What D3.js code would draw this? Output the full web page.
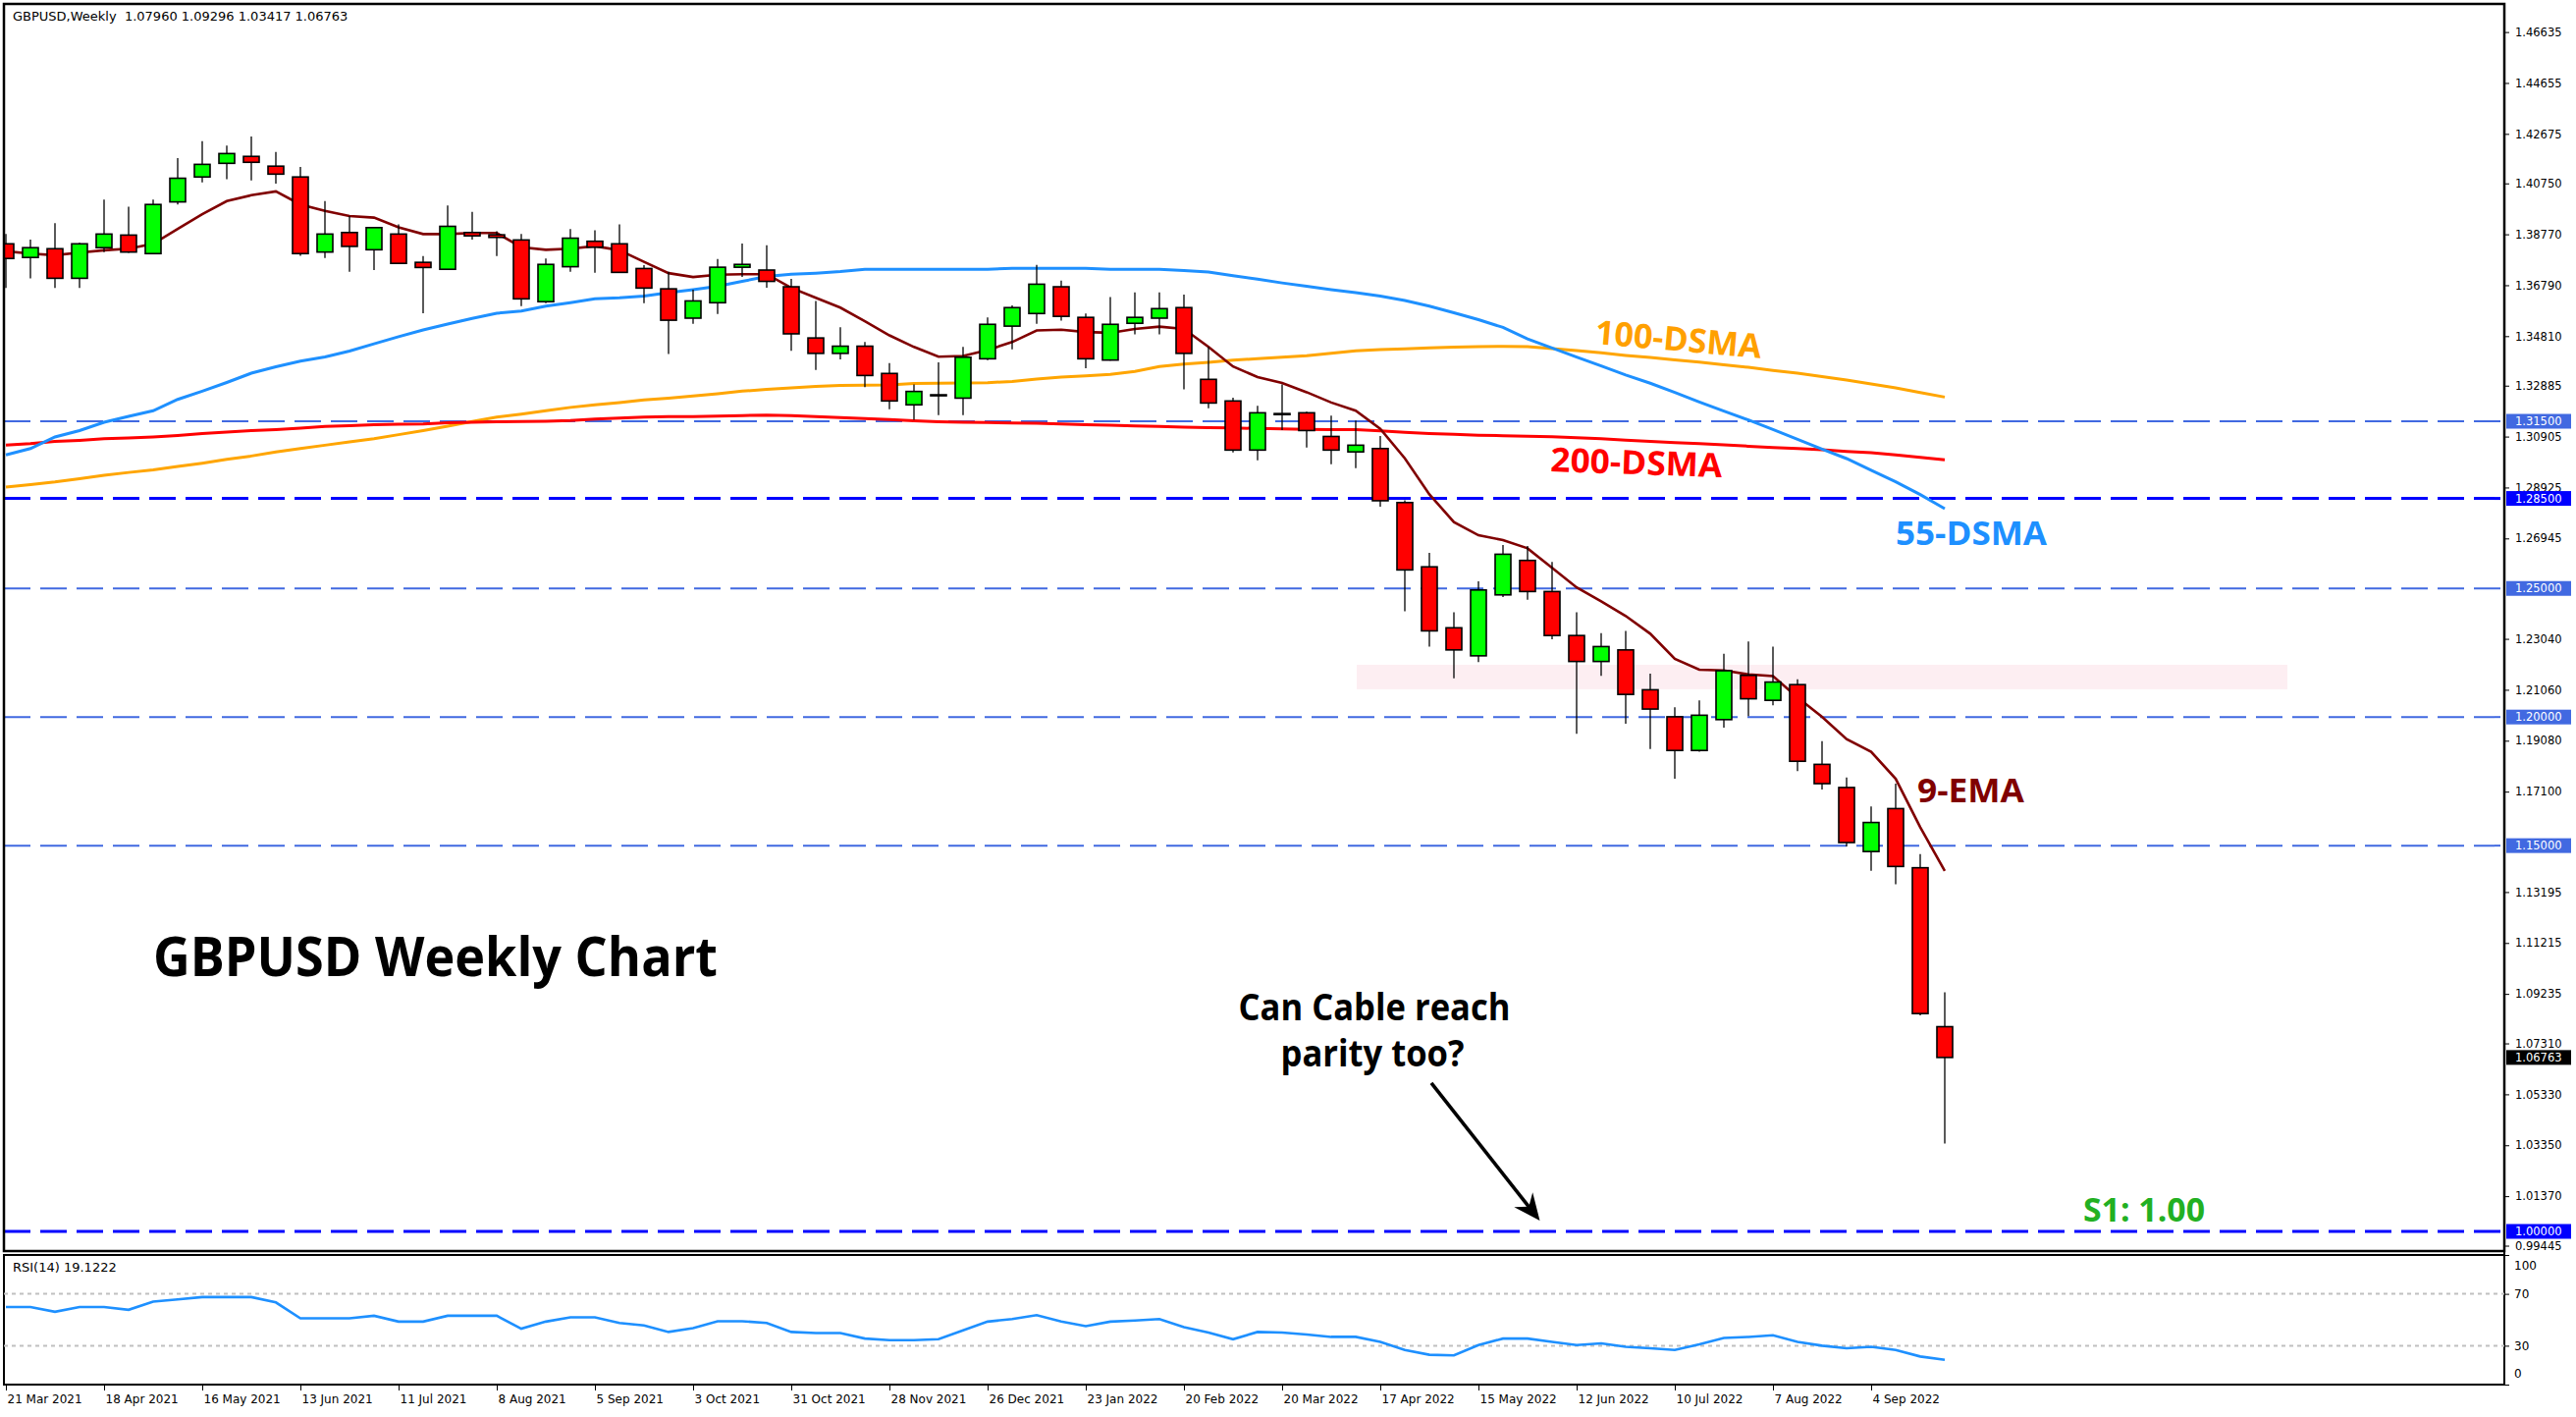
<!DOCTYPE html>
<html><head><meta charset="utf-8">
<script src="https://cdn.jsdelivr.net/npm/d3@7"></script>
<style>
html,body{margin:0;padding:0;background:#fff;}
svg{display:block;}
text{white-space:pre;}
</style></head><body>
<svg id="chart" width="2624" height="1443"></svg>
<script>
// ---------- DATA (weekly GBPUSD, week 0 = 21 Mar 2021) ----------
const opens = [1.3840,1.3787,1.3821,1.3706,1.3825,1.3874,1.3802,1.4003,1.4100,1.4153,
  1.4180,1.4142,1.4100,1.3808,1.3884,1.3817,1.3878,1.3768,1.3741,1.3884,
  1.3875,1.3855,1.3615,1.3751,1.3850,1.3840,1.3744,1.3665,1.3551,1.3611,
  1.3749,1.3738,1.3673,1.3474,1.3414,1.3442,1.3336,1.3214,1.3253,1.3240,
  1.3393,1.3520,1.3569,1.3673,1.3554,1.3388,1.3531,1.3551,1.3592,1.3313,
  1.3229,1.3038,1.3180,1.3183,1.3091,1.3031,1.3044,1.2834,1.2584,1.2347,
  1.2238,1.2475,1.2609,1.2488,1.2317,1.2216,1.2261,1.2106,1.2001,1.1870,
  1.1990,1.2162,1.2065,1.2126,1.1816,1.1726,1.1477,1.1644,1.1414,1.07960];
const highs = [1.3878,1.3856,1.3920,1.3844,1.4012,1.3984,1.4012,1.4173,1.4239,1.4222,
  1.4257,1.4197,1.4139,1.4006,1.3948,1.3905,1.3916,1.3792,1.3989,1.3964,
  1.3889,1.3878,1.3783,1.3897,1.3893,1.3916,1.3757,1.3731,1.3662,1.3781,
  1.3841,1.3834,1.3704,1.3618,1.3516,1.3458,1.3376,1.3293,1.3379,1.3439,
  1.3554,1.3601,1.3758,1.3697,1.3569,1.3633,1.3651,1.3651,1.3643,1.3439,
  1.3242,1.3210,1.3293,1.3187,1.3172,1.3153,1.3093,1.2843,1.2638,1.2407,
  1.2528,1.2669,1.2665,1.2603,1.2407,1.2326,1.2335,1.2169,1.2038,1.2065,
  1.2246,1.2294,1.2274,1.2147,1.1906,1.1765,1.1652,1.1741,1.1467,1.09296];
const lows = [1.3668,1.3706,1.3668,1.3668,1.3808,1.3805,1.3800,1.3993,1.4079,1.4091,
  1.4086,1.4074,1.3793,1.3785,1.3731,1.3738,1.3762,1.3570,1.3739,1.3856,
  1.3792,1.3598,1.3609,1.3731,1.3728,1.3727,1.3609,1.3412,1.3529,1.3567,
  1.3711,1.3669,1.3424,1.3350,1.3391,1.3283,1.3197,1.3156,1.3174,1.3174,
  1.3388,1.3430,1.3529,1.3541,1.3356,1.3386,1.3488,1.3488,1.3274,1.3201,
  1.3029,1.2998,1.3116,1.3048,1.2983,1.2968,1.2818,1.2411,1.2274,1.2151,
  1.2214,1.2467,1.2456,1.2302,1.1935,1.2160,1.1974,1.1876,1.1760,1.1865,
  1.1959,1.2004,1.2046,1.1790,1.1718,1.1497,1.1402,1.1350,1.0840,1.03417];
const closes = [1.3783,1.3825,1.3706,1.3840,1.3878,1.3808,1.3993,1.4095,1.4149,1.4191,
  1.4157,1.4111,1.3802,1.3878,1.3830,1.3903,1.3764,1.3748,1.3908,1.3871,
  1.3865,1.3626,1.3760,1.3862,1.3827,1.3729,1.3668,1.3543,1.3618,1.3749,
  1.3760,1.3694,1.3490,1.3414,1.3442,1.3328,1.3229,1.3266,1.3250,1.3399,
  1.3527,1.3592,1.3683,1.3558,1.3393,1.3527,1.3554,1.3588,1.3414,1.3221,
  1.3038,1.3183,1.3176,1.3114,1.3038,1.3057,1.2841,1.2572,1.2335,1.2261,
  1.2494,1.2633,1.2488,1.2317,1.2216,1.2274,1.2088,1.2031,1.1870,1.2007,
  1.2180,1.2071,1.2136,1.1828,1.1741,1.1512,1.1590,1.1419,1.0847,1.06763];
const ema9 = [1.3811,1.3802,1.3796,1.3806,1.3815,1.3821,1.3840,1.3898,1.3955,1.4006,
  1.4029,1.4044,1.3993,1.3968,1.3948,1.3942,1.3904,1.3878,1.3878,1.3882,
  1.3882,1.3827,1.3817,1.3821,1.3831,1.3815,1.3770,1.3726,1.3711,1.3720,
  1.3722,1.3722,1.3669,1.3630,1.3592,1.3539,1.3484,1.3439,1.3401,1.3404,
  1.3427,1.3458,1.3503,1.3506,1.3497,1.3494,1.3509,1.3518,1.3509,1.3439,
  1.3363,1.3322,1.3299,1.3263,1.3223,1.3191,1.3121,1.3006,1.2866,1.2758,
  1.2707,1.2688,1.2656,1.2580,1.2504,1.2450,1.2393,1.2324,1.2226,1.2184,
  1.2181,1.2166,1.2159,1.2076,1.2001,1.1914,1.1865,1.1760,1.1572,1.1402];
const sma55 = [1.3019,1.3044,1.3089,1.3114,1.3146,1.3169,1.3191,1.3235,1.3267,1.3301,
  1.3337,1.3362,1.3384,1.3400,1.3423,1.3451,1.3479,1.3505,1.3528,1.3550,
  1.3570,1.3579,1.3598,1.3611,1.3626,1.3630,1.3637,1.3650,1.3662,1.3675,
  1.3694,1.3713,1.3722,1.3726,1.3732,1.3741,1.3741,1.3741,1.3741,1.3741,
  1.3741,1.3745,1.3745,1.3745,1.3745,1.3741,1.3741,1.3741,1.3736,1.3730,
  1.3716,1.3703,1.3688,1.3675,1.3662,1.3650,1.3637,1.3620,1.3598,1.3572,
  1.3545,1.3515,1.3470,1.3435,1.3400,1.3365,1.3330,1.3298,1.3262,1.3225,
  1.3190,1.3155,1.3118,1.3080,1.3042,1.3005,1.2960,1.2915,1.2865,1.2810];
const sma100 = [1.2894,1.2904,1.2914,1.2927,1.2940,1.2951,1.2961,1.2974,1.2987,1.3002,
  1.3015,1.3031,1.3044,1.3057,1.3070,1.3082,1.3098,1.3114,1.3131,1.3149,
  1.3166,1.3178,1.3191,1.3204,1.3214,1.3223,1.3233,1.3240,1.3248,1.3257,
  1.3267,1.3274,1.3280,1.3286,1.3289,1.3290,1.3291,1.3297,1.3298,1.3299,
  1.3300,1.3305,1.3314,1.3322,1.3327,1.3332,1.3344,1.3363,1.3372,1.3379,
  1.3388,1.3393,1.3399,1.3405,1.3414,1.3424,1.3429,1.3432,1.3435,1.3438,
  1.3440,1.3441,1.3440,1.3433,1.3425,1.3416,1.3406,1.3398,1.3389,1.3380,
  1.3370,1.3360,1.3348,1.3337,1.3324,1.3310,1.3295,1.3280,1.3262,1.3244];
const sma200 = [1.3057,1.3063,1.3072,1.3076,1.3082,1.3085,1.3089,1.3095,1.3102,1.3108,
  1.3114,1.3118,1.3123,1.3130,1.3133,1.3137,1.3139,1.3140,1.3144,1.3146,
  1.3148,1.3149,1.3150,1.3153,1.3159,1.3162,1.3166,1.3168,1.3168,1.3170,
  1.3172,1.3174,1.3172,1.3168,1.3164,1.3161,1.3157,1.3152,1.3148,1.3146,
  1.3145,1.3143,1.3142,1.3140,1.3137,1.3135,1.3132,1.3130,1.3127,1.3125,
  1.3124,1.3122,1.3120,1.3119,1.3118,1.3118,1.3113,1.3107,1.3102,1.3099,
  1.3096,1.3094,1.3092,1.3090,1.3086,1.3082,1.3077,1.3072,1.3067,1.3063,
  1.3058,1.3053,1.3048,1.3044,1.3039,1.3033,1.3028,1.3019,1.3010,1.3000];
const rsi14 = [59.9,59.9,56.2,59.9,59.9,57.7,64.0,65.7,67.5,67.5,
  67.5,63.4,51.1,51.1,51.1,53.1,48.6,48.6,53.1,53.1,
  53.1,43.1,48.6,51.9,51.9,47.6,45.6,40.6,43.6,48.9,
  48.9,47.6,40.6,39.8,39.8,35.5,34.3,34.3,35.0,41.8,
  48.6,50.6,53.6,48.6,45.1,48.6,49.4,50.6,44.3,40.1,
  35.0,40.6,40.1,38.6,36.8,36.8,33.0,26.7,23.0,22.5,
  30.5,35.5,35.5,33.0,30.5,31.8,29.2,28.0,26.7,31.0,
  36.0,36.8,38.1,33.0,30.0,28.0,29.2,26.7,21.7,19.12];
const dateLabels = ["21 Mar 2021","18 Apr 2021","16 May 2021","13 Jun 2021","11 Jul 2021",
  "8 Aug 2021","5 Sep 2021","3 Oct 2021","31 Oct 2021","28 Nov 2021","26 Dec 2021",
  "23 Jan 2022","20 Feb 2022","20 Mar 2022","17 Apr 2022","15 May 2022","12 Jun 2022",
  "10 Jul 2022","7 Aug 2022","4 Sep 2022"];
const dateLabelWeeks = [0,4,8,12,16,20,24,28,32,36,40,44,48,52,56,60,64,68,72,76];
const priceTicks = [1.46635,1.44655,1.42675,1.40750,1.38770,1.36790,1.34810,1.32885,
  1.30905,1.28925,1.26945,1.23040,1.21060,1.19080,1.17100,1.13195,1.11215,1.09235,
  1.07310,1.05330,1.03350,1.01370,0.99445];
const levelValues = [1.315,1.285,1.25,1.20,1.15,1.00];
const levelKinds  = ["minor","major","minor","minor","minor","major"];
const zonePrices = [1.2108,1.2203];
const zoneWeeks = [55.04,92.96];
const rsiLevels = [70,30];
const rsiAxisTicks = [100,70,30,0];
const headerText = "GBPUSD,Weekly  1.07960 1.09296 1.03417 1.06763";
const rsiText = "RSI(14) 19.1222";
const lastPrice = 1.06763;

// ---------- LAYOUT ----------
const svg = d3.select("#chart");
const L = 4, R = 2551, T = 4, B = 1274, RT = 1278, RB = 1410;
const x = d3.scaleLinear().domain([0, 79]).range([6, 1981]);
const y = d3.scaleLinear().domain([0.99236, 1.47728]).range([B, T]);
const yr = d3.scaleLinear().domain([0, 100]).range([RB, RT]);
const step = x(1) - x(0);
const bodyW = step * 0.64;
const uiFont = "'DejaVu Sans', sans-serif";
const annFont = "'Open Sans', sans-serif";
const idx = d3.range(opens.length);

svg.append("rect").attr("width", 2624).attr("height", 1443).attr("fill", "#fff");
const defs = svg.append("defs");
defs.append("clipPath").attr("id", "cm").append("rect")
  .attr("x", L).attr("y", T).attr("width", R - L).attr("height", B - T);
defs.append("clipPath").attr("id", "cr").append("rect")
  .attr("x", L).attr("y", RT).attr("width", R - L).attr("height", RB - RT);

const main = svg.append("g").attr("clip-path", "url(#cm)");

// support/resistance zone
main.append("rect")
  .attr("x", x(zoneWeeks[0])).attr("width", x(zoneWeeks[1]) - x(zoneWeeks[0]))
  .attr("y", y(zonePrices[1])).attr("height", y(zonePrices[0]) - y(zonePrices[1]))
  .attr("fill", "#FDEEF2");

// horizontal dashed levels
const levelColor = {minor: "#4169E1", major: "#0000FF"};
const levelWidth = {minor: 2, major: 3};
main.selectAll("line.lvl").data(levelValues).join("line").attr("class", "lvl")
  .attr("x1", L).attr("x2", R).attr("y1", d => y(d)).attr("y2", d => y(d))
  .attr("stroke", (d, i) => levelColor[levelKinds[i]])
  .attr("stroke-width", (d, i) => levelWidth[levelKinds[i]])
  .attr("stroke-dasharray", "27,10");

// moving averages
const lineGen = arr => d3.line().x((d, i) => x(i)).y(d => y(d))(arr);
main.append("path").attr("d", lineGen(sma100)).attr("fill", "none").attr("stroke", "#FFA500").attr("stroke-width", 3);
main.append("path").attr("d", lineGen(sma200)).attr("fill", "none").attr("stroke", "#FF0000").attr("stroke-width", 3);
main.append("path").attr("d", lineGen(sma55)).attr("fill", "none").attr("stroke", "#1E90FF").attr("stroke-width", 3);
main.append("path").attr("d", lineGen(ema9)).attr("fill", "none").attr("stroke", "#800000").attr("stroke-width", 2.6);

// candles
const cg = main.append("g");
cg.selectAll("line.wick").data(idx).join("line").attr("class", "wick")
  .attr("x1", i => x(i)).attr("x2", i => x(i))
  .attr("y1", i => y(highs[i])).attr("y2", i => y(lows[i]))
  .attr("stroke", "#000").attr("stroke-width", 1.3);
cg.selectAll("rect.body").data(idx).join("rect").attr("class", "body")
  .attr("x", i => x(i) - bodyW / 2).attr("width", bodyW)
  .attr("y", i => y(Math.max(opens[i], closes[i])))
  .attr("height", i => Math.max(1, Math.abs(y(opens[i]) - y(closes[i]))))
  .attr("fill", i => closes[i] >= opens[i] ? "#00FF00" : "#FF0000")
  .attr("stroke", "#000").attr("stroke-width", 1.6);

// panel frames
svg.append("rect").attr("x", L).attr("y", T).attr("width", R - L).attr("height", B - T)
  .attr("fill", "none").attr("stroke", "#000").attr("stroke-width", 2.5);
svg.append("rect").attr("x", L).attr("y", RT).attr("width", R - L).attr("height", RB - RT)
  .attr("fill", "none").attr("stroke", "#000").attr("stroke-width", 2);

// price axis
const pa = svg.append("g").attr("transform", `translate(${R},0)`)
  .call(d3.axisRight(y).tickValues(priceTicks).tickFormat(d3.format(".5f")).tickSize(5).tickPadding(6));
pa.select(".domain").remove();
pa.selectAll("text").attr("font-family", uiFont).attr("font-size", 11.5).attr("fill", "#000");
pa.selectAll("line").attr("stroke", "#000");

// level labels on axis
const lab = svg.append("g");
levelValues.forEach((v, i) => {
  lab.append("rect").attr("x", R + 2).attr("y", y(v) - 7.5).attr("width", 66).attr("height", 15)
    .attr("fill", levelColor[levelKinds[i]]);
  lab.append("text").attr("x", R + 11).attr("y", y(v)).attr("dy", "0.35em")
    .attr("font-family", uiFont).attr("font-size", 11.5).attr("fill", "#fff").text(d3.format(".5f")(v));
});
lab.append("rect").attr("x", R + 2).attr("y", y(lastPrice) - 7.5).attr("width", 66).attr("height", 15).attr("fill", "#000");
lab.append("text").attr("x", R + 11).attr("y", y(lastPrice)).attr("dy", "0.35em")
  .attr("font-family", uiFont).attr("font-size", 11.5).attr("fill", "#fff").text(d3.format(".5f")(lastPrice));

// axis vertical line
svg.append("line").attr("x1", R).attr("x2", R).attr("y1", T).attr("y2", RB).attr("stroke", "#000").attr("stroke-width", 2);

// RSI panel
const rg = svg.append("g").attr("clip-path", "url(#cr)");
rg.selectAll("line.rl").data(rsiLevels).join("line").attr("class", "rl")
  .attr("x1", L).attr("x2", R).attr("y1", d => yr(d)).attr("y2", d => yr(d))
  .attr("stroke", "#C0C0C0").attr("stroke-width", 2).attr("stroke-dasharray", "4,4");
rg.append("path").attr("d", d3.line().x((d, i) => x(i)).y(d => yr(d))(rsi14))
  .attr("fill", "none").attr("stroke", "#1E90FF").attr("stroke-width", 2.6);
const ra = svg.append("g").attr("transform", `translate(${R},0)`)
  .call(d3.axisRight(yr).tickValues(rsiAxisTicks).tickSize(5).tickPadding(5));
ra.select(".domain").remove();
ra.selectAll("text").attr("font-family", uiFont).attr("font-size", 12).attr("fill", "#000")
  .attr("dy", d => d === 100 ? "1.2em" : d === 0 ? "-0.6em" : "0.32em");
svg.append("text").attr("x", 13).attr("y", RT + 17).attr("font-family", uiFont).attr("font-size", 13)
  .attr("fill", "#000").text(rsiText);

// date axis
const da = svg.append("g").attr("transform", `translate(0,${RB})`)
  .call(d3.axisBottom(x).tickValues(dateLabelWeeks).tickFormat((d, i) => dateLabels[i]).tickSize(6).tickPadding(4));
da.select(".domain").remove();
da.selectAll("text").attr("font-family", uiFont).attr("font-size", 12).attr("fill", "#000")
  .attr("text-anchor", "start").attr("dx", 1);

// header
svg.append("text").attr("x", 13).attr("y", 21).attr("font-family", uiFont).attr("font-size", 13)
  .attr("fill", "#000").text(headerText);

// annotations
function ann(txt, px, py, size, color, len, anchor, rot) {
  const t = svg.append("text").attr("x", px).attr("y", py).attr("font-family", annFont)
    .attr("font-weight", 700).attr("font-size", size).attr("fill", color)
    .attr("text-anchor", anchor || "start").attr("textLength", len).attr("lengthAdjust", "spacingAndGlyphs").text(txt);
  if (rot) t.attr("transform", `rotate(${rot},${px},${py})`);
}
ann("GBPUSD Weekly Chart", 156, 994, 56, "#000", 575);
ann("Can Cable reach", 1400, 1039, 38, "#000", 277, "middle");
ann("parity too?", 1398, 1086, 38, "#000", 187, "middle");
ann("100-DSMA", 1624, 350, 34, "#FFA000", 170, "start", 5);
ann("200-DSMA", 1579, 480, 34, "#FF0000", 175, "start", 2);
ann("55-DSMA", 1931, 555, 34, "#1E90FF", 154);
ann("9-EMA", 1953, 817, 34, "#800000", 109);
ann("S1: 1.00", 2122, 1244, 34, "#22B022", 124);

// arrow
const tail = [x(58.08), y(1.0577)], tip = [x(62.5), y(1.0042)];
const ang = Math.atan2(tip[1] - tail[1], tip[0] - tail[0]);
const hl = 27, hw = 12;
const bx = tip[0] - hl * Math.cos(ang), by = tip[1] - hl * Math.sin(ang);
svg.append("line").attr("x1", tail[0]).attr("y1", tail[1])
  .attr("x2", tip[0] - 12 * Math.cos(ang)).attr("y2", tip[1] - 12 * Math.sin(ang))
  .attr("stroke", "#000").attr("stroke-width", 3.6);
svg.append("path").attr("d", `M${tip[0]},${tip[1]} L${bx + hw * Math.sin(ang)},${by - hw * Math.cos(ang)} L${tip[0] - 18 * Math.cos(ang)},${tip[1] - 18 * Math.sin(ang)} L${bx - hw * Math.sin(ang)},${by + hw * Math.cos(ang)} Z`)
  .attr("fill", "#000");
</script>
</body></html>
